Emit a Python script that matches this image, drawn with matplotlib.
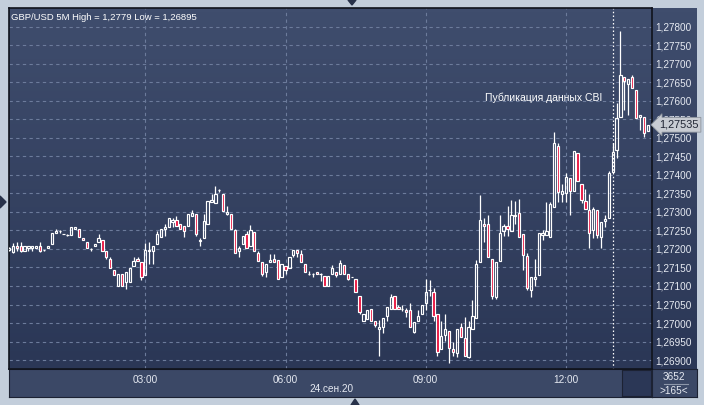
import numpy as np
import matplotlib.pyplot as plt
from matplotlib.patches import Polygon
from matplotlib.colors import LinearSegmentedColormap
import matplotlib.transforms as mtransforms

plt.rcParams['font.family'] = ['Liberation Sans', 'DejaVu Sans']

# 5M candles GBP/USD, 24.09.20, 00:05 .. 13:45
opens = [1.27198, 1.27193, 1.27208, 1.27208, 1.27194, 1.27202, 1.27202, 1.27202, 1.27208, 1.27196,
         1.27202, 1.27213, 1.27243, 1.27249, 1.27239, 1.27238, 1.27238, 1.27254, 1.27254, 1.27230,
         1.27220, 1.27200, 1.27207, 1.27218, 1.27224, 1.27195, 1.27173, 1.27143, 1.27100, 1.27132,
         1.27110, 1.27112, 1.27153, 1.27174, 1.27166, 1.27130, 1.27194, 1.27194, 1.27212, 1.27232,
         1.27254, 1.27260, 1.27272, 1.27279, 1.27268, 1.27261, 1.27261, 1.27289, 1.27293, 1.27221,
         1.27230, 1.27268, 1.27326, 1.27324, 1.27358, 1.27349, 1.27293, 1.27293, 1.27250, 1.27194,
         1.27214, 1.27240, 1.27208, 1.27245, 1.27190, 1.27166, 1.27138, 1.27165, 1.27174, 1.27169,
         1.27124, 1.27154, 1.27149, 1.27183, 1.27196, 1.27185, 1.27160, 1.27133, 1.27131, 1.27139,
         1.27131, 1.27126, 1.27101, 1.27131, 1.27139, 1.27133, 1.27156, 1.27131, 1.27124, 1.27120,
         1.27074, 1.27006, 1.27011, 1.27038, 1.27006, 1.26984, 1.26988, 1.27019, 1.27037, 1.27073,
         1.27044, 1.27037, 1.27035, 1.27035, 1.26977, 1.27005, 1.27024, 1.27053, 1.27088, 1.27085,
         1.27024, 1.26929, 1.26968, 1.26979, 1.26930, 1.26918, 1.26990, 1.26959, 1.26909, 1.26984,
         1.27014, 1.27164, 1.27268, 1.27268, 1.27173, 1.27069, 1.27167, 1.27248, 1.27263, 1.27247,
         1.27289, 1.27298, 1.27239, 1.27180, 1.27089, 1.27119, 1.27130, 1.27238, 1.27238, 1.27232,
         1.27313, 1.27479, 1.27349, 1.27351, 1.27390, 1.27357, 1.27458, 1.27374, 1.27329, 1.27304,
         1.27250, 1.27304, 1.27232, 1.27274, 1.27283, 1.27408, 1.27467, 1.27557, 1.27664, 1.27645,
         1.27664, 1.27629, 1.27555, 1.27557, 1.27518]
highs = [1.27204, 1.27215, 1.27218, 1.27218, 1.27208, 1.27208, 1.27208, 1.27208, 1.27219, 1.27196,
         1.27208, 1.27243, 1.27254, 1.27250, 1.27239, 1.27240, 1.27259, 1.27259, 1.27254, 1.27230,
         1.27220, 1.27202, 1.27213, 1.27239, 1.27224, 1.27195, 1.27179, 1.27143, 1.27132, 1.27132,
         1.27137, 1.27148, 1.27179, 1.27179, 1.27166, 1.27215, 1.27220, 1.27209, 1.27248, 1.27254,
         1.27268, 1.27284, 1.27284, 1.27290, 1.27268, 1.27261, 1.27293, 1.27304, 1.27293, 1.27230,
         1.27293, 1.27328, 1.27349, 1.27369, 1.27362, 1.27349, 1.27315, 1.27293, 1.27255, 1.27207,
         1.27234, 1.27249, 1.27264, 1.27245, 1.27195, 1.27166, 1.27160, 1.27185, 1.27185, 1.27169,
         1.27160, 1.27154, 1.27178, 1.27198, 1.27196, 1.27198, 1.27160, 1.27140, 1.27135, 1.27139,
         1.27135, 1.27126, 1.27126, 1.27156, 1.27139, 1.27169, 1.27156, 1.27131, 1.27124, 1.27120,
         1.27074, 1.27024, 1.27035, 1.27038, 1.27006, 1.27008, 1.27014, 1.27042, 1.27079, 1.27073,
         1.27050, 1.27050, 1.27041, 1.27055, 1.27002, 1.27035, 1.27050, 1.27119, 1.27115, 1.27095,
         1.27024, 1.27006, 1.27024, 1.26979, 1.26950, 1.26984, 1.26999, 1.27015, 1.27006, 1.27061,
         1.27169, 1.27345, 1.27284, 1.27291, 1.27173, 1.27164, 1.27291, 1.27268, 1.27315, 1.27331,
         1.27329, 1.27334, 1.27239, 1.27190, 1.27125, 1.27173, 1.27244, 1.27250, 1.27327, 1.27327,
         1.27515, 1.27485, 1.27376, 1.27404, 1.27390, 1.27463, 1.27458, 1.27374, 1.27363, 1.27349,
         1.27313, 1.27304, 1.27273, 1.27291, 1.27411, 1.27487, 1.27593, 1.27789, 1.27664, 1.27659,
         1.27668, 1.27629, 1.27562, 1.27557, 1.27535]
lows = [1.27195, 1.27188, 1.27194, 1.27193, 1.27194, 1.27194, 1.27195, 1.27202, 1.27193, 1.27194,
        1.27202, 1.27213, 1.27243, 1.27244, 1.27239, 1.27236, 1.27238, 1.27254, 1.27232, 1.27224,
        1.27202, 1.27194, 1.27207, 1.27218, 1.27195, 1.27172, 1.27148, 1.27129, 1.27100, 1.27100,
        1.27093, 1.27112, 1.27153, 1.27167, 1.27117, 1.27130, 1.27159, 1.27159, 1.27212, 1.27232,
        1.27236, 1.27260, 1.27259, 1.27261, 1.27254, 1.27232, 1.27261, 1.27289, 1.27236, 1.27207,
        1.27230, 1.27268, 1.27326, 1.27324, 1.27353, 1.27302, 1.27291, 1.27255, 1.27190, 1.27178,
        1.27214, 1.27203, 1.27208, 1.27195, 1.27167, 1.27126, 1.27124, 1.27165, 1.27165, 1.27120,
        1.27124, 1.27133, 1.27149, 1.27178, 1.27178, 1.27165, 1.27138, 1.27130, 1.27124, 1.27133,
        1.27113, 1.27101, 1.27101, 1.27131, 1.27124, 1.27133, 1.27133, 1.27115, 1.27124, 1.27083,
        1.27024, 1.27006, 1.27011, 1.27006, 1.26990, 1.26912, 1.26972, 1.27005, 1.27037, 1.27037,
        1.27037, 1.27033, 1.27015, 1.26988, 1.26972, 1.27005, 1.27024, 1.27035, 1.27074, 1.27006,
        1.26912, 1.26929, 1.26952, 1.26893, 1.26912, 1.26909, 1.26963, 1.26912, 1.26905, 1.26984,
        1.27014, 1.27164, 1.27218, 1.27178, 1.27065, 1.27065, 1.27167, 1.27236, 1.27236, 1.27247,
        1.27268, 1.27232, 1.27142, 1.27089, 1.27069, 1.27101, 1.27130, 1.27223, 1.27238, 1.27232,
        1.27313, 1.27327, 1.27327, 1.27327, 1.27292, 1.27357, 1.27384, 1.27324, 1.27309, 1.27202,
        1.27230, 1.27230, 1.27202, 1.27259, 1.27283, 1.27408, 1.27444, 1.27557, 1.27575, 1.27562,
        1.27634, 1.27553, 1.27521, 1.27503, 1.27518]
closes = [1.27202, 1.27209, 1.27202, 1.27194, 1.27208, 1.27207, 1.27208, 1.27208, 1.27194, 1.27196,
          1.27208, 1.27243, 1.27249, 1.27247, 1.27239, 1.27238, 1.27259, 1.27259, 1.27232, 1.27224,
          1.27202, 1.27200, 1.27213, 1.27230, 1.27195, 1.27179, 1.27148, 1.27129, 1.27132, 1.27100,
          1.27137, 1.27148, 1.27167, 1.27167, 1.27123, 1.27197, 1.27197, 1.27209, 1.27239, 1.27254,
          1.27259, 1.27284, 1.27279, 1.27261, 1.27254, 1.27248, 1.27293, 1.27298, 1.27241, 1.27225,
          1.27274, 1.27328, 1.27333, 1.27349, 1.27358, 1.27302, 1.27300, 1.27255, 1.27190, 1.27203,
          1.27234, 1.27203, 1.27250, 1.27195, 1.27167, 1.27132, 1.27160, 1.27171, 1.27165, 1.27120,
          1.27160, 1.27144, 1.27178, 1.27198, 1.27189, 1.27165, 1.27138, 1.27133, 1.27131, 1.27133,
          1.27131, 1.27101, 1.27126, 1.27149, 1.27129, 1.27162, 1.27133, 1.27120, 1.27124, 1.27083,
          1.27029, 1.27024, 1.27035, 1.27006, 1.26995, 1.26990, 1.27014, 1.27042, 1.27071, 1.27037,
          1.27037, 1.27037, 1.27029, 1.26988, 1.27002, 1.27020, 1.27050, 1.27085, 1.27088, 1.27020,
          1.26923, 1.26965, 1.26983, 1.26934, 1.26923, 1.26984, 1.26963, 1.26912, 1.26988, 1.27019,
          1.27160, 1.27279, 1.27262, 1.27178, 1.27072, 1.27164, 1.27244, 1.27261, 1.27254, 1.27292,
          1.27292, 1.27232, 1.27184, 1.27095, 1.27125, 1.27125, 1.27244, 1.27244, 1.27249, 1.27320,
          1.27485, 1.27354, 1.27356, 1.27393, 1.27356, 1.27463, 1.27384, 1.27333, 1.27309, 1.27244,
          1.27309, 1.27238, 1.27273, 1.27280, 1.27404, 1.27462, 1.27553, 1.27670, 1.27654, 1.27659,
          1.27634, 1.27553, 1.27562, 1.27512, 1.27535]

time_labels = ['03:00', '06:00', '09:00', '12:00']
time_index = [35, 71, 107, 143]       # candle number of each label (5 min bars)
cbi_index = 155                       # 13:00
y_ticks = [1.26900 + 0.0005 * k for k in range(19)]
last_price = 1.27535

W, H = 704, 405
def box(x0, y0, x1, y1):
    return [x0 / W, 1 - y1 / H, (x1 - x0) / W, (y1 - y0) / H]

fig = plt.figure(figsize=(7.04, 4.05), dpi=100, facecolor='#c3cedb')
grad = LinearSegmentedColormap.from_list('bg', ['#2b3756', '#3f4d6d'])

# right price panel and bottom time panel
rp = fig.add_axes(box(652, 8, 697, 369), zorder=0)
rp.imshow(np.linspace(0, 1, 100)[:, None], cmap=grad, aspect='auto', origin='lower', extent=[0, 1, 0, 1])
rp.set_axis_off()
bp = fig.add_axes(box(9, 369, 652, 397), zorder=0)
bp.set_facecolor('#3b4866')
bp.set_xticks([]); bp.set_yticks([])
cp = fig.add_axes(box(652, 369, 697, 397), zorder=0)
cp.set_facecolor('#3b4866')
cp.set_xticks([]); cp.set_yticks([])
dk = fig.add_axes(box(622, 370, 651, 396), zorder=1)
dk.set_facecolor('#2b3756')
dk.set_xticks([]); dk.set_yticks([])
for a in (bp, cp, dk):
    for s in a.spines.values():
        s.set_color('#1c2233')
        s.set_linewidth(0.8)

ax = fig.add_axes(box(9, 8, 652, 369), zorder=2)
xlo, xhi = 0, 165.1
ylo, yhi = 1.26876, 1.27850
ax.set_xlim(xlo, xhi)
ax.set_ylim(ylo, yhi)
ax.imshow(np.linspace(0, 1, 100)[:, None], cmap=grad, aspect='auto', origin='lower',
          extent=[xlo, xhi, ylo, yhi], zorder=0)

for yt in y_ticks:
    ax.axhline(yt, color='#6c7b9b', lw=0.8, ls=(0, (3, 3)), zorder=1)
for xt in time_index:
    ax.axvline(xt, color='#6c7b9b', lw=0.8, ls=(0, (3, 3)), zorder=1)

x = np.arange(len(opens))
o = np.array(opens); h = np.array(highs); l = np.array(lows); c = np.array(closes)
top = np.maximum(o, c); bot = np.minimum(o, c)
up = c >= o
ax.vlines(x, top, h, color='white', lw=0.9, zorder=3)
ax.vlines(x, l, bot, color='white', lw=0.9, zorder=3)
hgt = np.maximum(top - bot, 0.000004)
ax.bar(x[up], hgt[up], bottom=bot[up], width=0.58, facecolor='none', edgecolor='white', lw=0.85, zorder=4)
ax.bar(x[~up], hgt[~up], bottom=bot[~up], width=0.58, facecolor='#e8103c', edgecolor='white', lw=0.85, zorder=4)

ax.axvline(cbi_index, color='white', lw=0.9, ls=(0, (1.2, 1.8)), zorder=2)
ax.annotate('Публикация данных CBI', xy=(cbi_index, 1.27607), xytext=(-10, 0), textcoords='offset pixels',
            ha='right', va='center', color='white', fontsize=7.5, zorder=5)

ax.text(0.003, 0.974, 'GBP/USD 5M High = 1,2779 Low = 1,26895', transform=ax.transAxes, color='white',
        fontsize=6.8, ha='left', va='center', zorder=5)

ax.yaxis.tick_right()
ax.set_yticks(y_ticks)
ax.set_yticklabels([('%.5f' % v).replace('.', ',') for v in y_ticks])
ax.set_xticks(time_index)
ax.set_xticklabels(time_labels)
ax.tick_params(axis='y', length=0, pad=2, labelsize=7.2, labelcolor='#e6eaf2')
ax.tick_params(axis='x', length=0, pad=4, labelsize=7.2, labelcolor='#e6eaf2')
for s in ax.spines.values():
    s.set_color('#10131c')
    s.set_linewidth(1.2)

# last price marker
blend = mtransforms.blended_transform_factory(ax.transAxes, ax.transData)
ax.text(1.0, last_price, '1,27535', transform=blend + mtransforms.ScaledTranslation(7 / 100, 0, fig.dpi_scale_trans),
        ha='left', va='center', fontsize=7.8, color='#1e2433', zorder=10, clip_on=False,
        bbox=dict(boxstyle='larrow,pad=0.22', fc='#c8ccd3', ec='#8d949e', lw=0.6))

fig.text(332 / W, 1 - 389 / H, '24.сен.20', color='#e6eaf2', fontsize=7.2, ha='center', va='center')
fig.text(674 / W, 1 - 377 / H, '3652', color='#e6eaf2', fontsize=7.2, ha='center', va='center')
fig.add_artist(plt.Line2D([664 / W, 688 / W], [1 - 383.5 / H] * 2, color='#8d97aa', lw=0.8))
fig.text(674 / W, 1 - 390.5 / H, '>165<', color='#e6eaf2', fontsize=7.2, ha='center', va='center')

# little navigation triangles on the frame
tri = dict(closed=True, color='#28324a', transform=None)
fig.add_artist(Polygon([[348, H - 0], [356, H - 0], [352, H - 5]], **tri))
fig.add_artist(Polygon([[0, H - 196], [0, H - 208], [6, H - 202]], **tri))
fig.add_artist(Polygon([[351, 0], [359, 0], [355, 6]], **tri))

fig.savefig('out.png', dpi=100, facecolor=fig.get_facecolor())
